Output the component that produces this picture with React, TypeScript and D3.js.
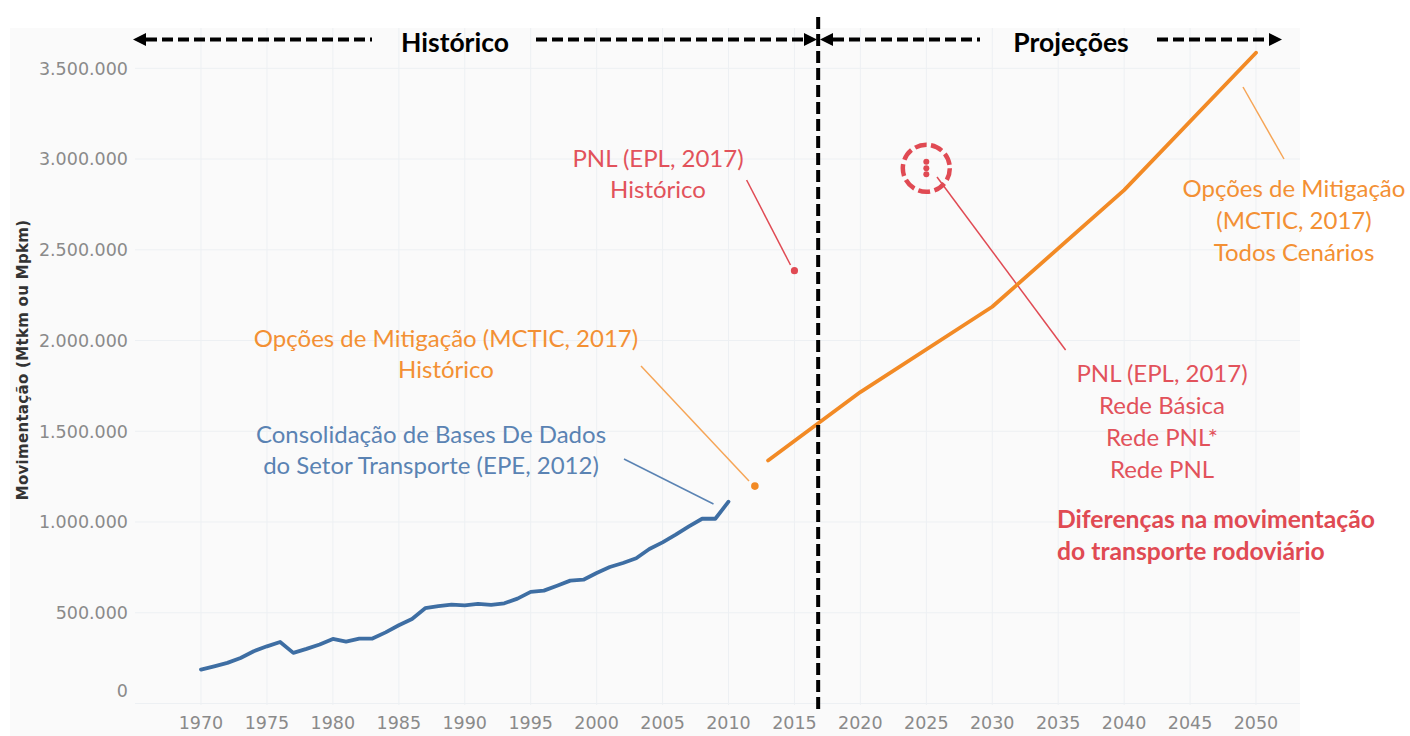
import React from "react";
import * as d3 from "d3";

// ---------- data ----------
const histYears = [
  1970, 1971, 1972, 1973, 1974, 1975, 1976, 1977, 1978, 1979, 1980, 1981, 1982, 1983, 1984,
  1985, 1986, 1987, 1988, 1989, 1990, 1991, 1992, 1993, 1994, 1995, 1996, 1997, 1998, 1999,
  2000, 2001, 2002, 2003, 2004, 2005, 2006, 2007, 2008, 2009, 2010,
];
const histValues = [
  187000, 205000, 224000, 251000, 288000, 315000, 339000, 279000, 301000, 325000, 356000,
  341000, 358000, 358000, 392000, 431000, 466000, 525000, 536000, 545000, 541000, 549000,
  543000, 552000, 578000, 615000, 622000, 649000, 677000, 682000, 719000, 752000, 774000,
  800000, 851000, 888000, 930000, 976000, 1018000, 1018000, 1112000,
];
const projYears = [2013, 2020, 2030, 2040, 2050];
const projValues = [1339000, 1716000, 2186000, 2829000, 3586000];
const mcticHistYears = [2012];
const mcticHistValues = [1198000];
const pnlHistYears = [2015];
const pnlHistValues = [2385000];
const pnlScenarioYears = [2025, 2025, 2025];
const pnlScenarioValues = [2985000, 2949000, 2916000];
const xTicks = [1970, 1975, 1980, 1985, 1990, 1995, 2000, 2005, 2010, 2015, 2020, 2025, 2030, 2035, 2040, 2045, 2050];
const yTicks = [0, 500000, 1000000, 1500000, 2000000, 2500000, 3000000, 3500000];
const dividerYear = 2016.8;

const yTitle = "Movimentação (Mtkm ou Mpkm)";
const headerLeft = "Histórico";
const headerRight = "Projeções";
const pnlHistLabel = ["PNL (EPL, 2017)", "Histórico"];
const mcticHistLabel = ["Opções de Mitigação (MCTIC, 2017)", "Histórico"];
const epeLabel = ["Consolidação de Bases De Dados", "do Setor Transporte (EPE, 2012)"];
const mcticProjLabel = ["Opções de Mitigação", "(MCTIC, 2017)", "Todos Cenários"];
const pnlProjLabel = ["PNL (EPL, 2017)", "Rede Básica", "Rede PNL*", "Rede PNL"];
const diffLabel = ["Diferenças na movimentação", "do transporte rodoviário"];

// ---------- styles ----------
const BLUE = "#3e6ea3";
const BLUE_TXT = "#5a83b3";
const ORANGE = "#f28a25";
const ORANGE_TXT = "#f39034";
const RED = "#e04a53";
const RED_TXT = "#e2525b";
const GRID = "#edf0f3";
const TICK = "#8a8a8a";
const ANN_FONT = "Lato, 'Open Sans', sans-serif";

const fmt = d3.formatLocale({ decimal: ",", thousands: ".", grouping: [3], currency: ["", ""] }).format(",d");

function Arrow({ tipX, y, dir }: { tipX: number; y: number; dir: 1 | -1 }) {
  const len = 13;
  const half = 6.5;
  const baseX = tipX - dir * len;
  return <polygon points={`${tipX},${y} ${baseX},${y - half} ${baseX},${y + half}`} fill="#000" />;
}

export default function App() {
  const x = d3.scaleLinear().domain([1970, 2050]).range([201, 1256]);
  const y = d3.scaleLinear().domain([0, 3500000]).range([703.5, 68.3]);

  const line = d3
    .line<[number, number]>()
    .x((d) => x(d[0]))
    .y((d) => y(d[1]))
    .curve(d3.curveLinear);

  const histPath = line(histYears.map((yr, i) => [yr, histValues[i]]));
  const projPath = line(projYears.map((yr, i) => [yr, projValues[i]]));

  const divX = x(dividerYear);
  const arrowY = 39.5;
  const circleCx = x(pnlScenarioYears[1]);
  const circleCy = y(pnlScenarioValues[1]);

  const annText = (lines: string[], cx: number, baseY: number, step: number, color: string, anchor = "middle", weight = 400, size = 24) => (
    <text x={cx} y={baseY} fill={color} fontFamily={ANN_FONT} fontSize={size} fontWeight={weight} textAnchor={anchor}>
      {lines.map((t, i) => (
        <tspan key={i} x={cx} y={baseY + i * step}>
          {t}
        </tspan>
      ))}
    </text>
  );

  return (
    <svg width={1410} height={736} style={{ position: "absolute", left: 0, top: 0, background: "#fff" }}>
      <rect x={10} y={28} width={1290} height={708} fill="#fafafa" />

      {/* grid */}
      {yTicks.map((t) => (
        <line key={"gy" + t} x1={135} x2={1300} y1={y(t)} y2={y(t)} stroke={GRID} strokeWidth={1} />
      ))}
      {xTicks.map((t) => (
        <line key={"gx" + t} x1={x(t)} x2={x(t)} y1={28} y2={705} stroke={GRID} strokeWidth={1} />
      ))}

      {/* y tick labels */}
      {yTicks.map((t) => (
        <text
          key={"ty" + t}
          x={128}
          y={y(t) + (t === 0 ? -13 : 0)}
          dy="0.36em"
          textAnchor="end"
          fill={TICK}
          fontFamily="'DejaVu Sans', sans-serif"
          fontSize={17.5}
        >
          {fmt(t)}
        </text>
      ))}
      {/* x tick labels */}
      {xTicks.map((t) => (
        <text
          key={"tx" + t}
          x={x(t)}
          y={729}
          textAnchor="middle"
          fill={TICK}
          fontFamily="'DejaVu Sans', sans-serif"
          fontSize={17.5}
        >
          {t}
        </text>
      ))}

      {/* y title */}
      <text
        transform="translate(27.5,360) rotate(-90)"
        textAnchor="middle"
        fill="#333"
        fontFamily="'DejaVu Sans', sans-serif"
        fontWeight={700}
        fontSize={15}
        letterSpacing={0.3}
      >
        {yTitle}
      </text>

      {/* leader lines */}
      <line x1={746.6} y1={180} x2={790.5} y2={265} stroke={RED} strokeWidth={1.5} />
      <line x1={937} y1={177} x2={1065.6} y2={350} stroke={RED} strokeWidth={1.5} />
      <line x1={641} y1={366} x2={749} y2={481} stroke="#f6a556" strokeWidth={1.5} />
      <line x1={624} y1={459} x2={713.5} y2={504} stroke={BLUE_TXT} strokeWidth={1.5} />
      <line x1={1243} y1={87} x2={1284} y2={159} stroke="#f6a556" strokeWidth={1.5} />

      {/* series */}
      <path d={histPath || ""} fill="none" stroke={BLUE} strokeWidth={3.8} strokeLinejoin="round" strokeLinecap="round" />
      <path d={projPath || ""} fill="none" stroke={ORANGE} strokeWidth={3.8} strokeLinejoin="round" strokeLinecap="round" />
      {mcticHistYears.map((yr, i) => (
        <circle key={"mh" + i} cx={x(yr)} cy={y(mcticHistValues[i])} r={3.8} fill={ORANGE} />
      ))}
      {pnlHistYears.map((yr, i) => (
        <circle key={"ph" + i} cx={x(yr)} cy={y(pnlHistValues[i])} r={3.6} fill={RED} />
      ))}
      {pnlScenarioYears.map((yr, i) => (
        <circle key={"ps" + i} cx={x(yr)} cy={y(pnlScenarioValues[i])} r={3} fill={RED} />
      ))}
      <circle cx={circleCx} cy={circleCy} r={23.5} fill="none" stroke={RED} strokeWidth={4.5} strokeDasharray="12,4.4" />

      {/* annotations */}
      {annText(pnlHistLabel, 658, 167, 31, RED_TXT)}
      {annText(mcticHistLabel, 446, 347, 31, ORANGE_TXT)}
      {annText(epeLabel, 431, 443, 31, BLUE_TXT)}
      {annText(mcticProjLabel, 1294, 197, 32, ORANGE_TXT)}
      {annText(pnlProjLabel, 1162, 382, 32, RED_TXT)}
      {annText(diffLabel, 1057, 528, 32, RED, "start", 700, 24.7)}

      {/* divider */}
      <line x1={divX} x2={divX} y1={17} y2={712} stroke="#000" strokeWidth={4} strokeDasharray="12,5" />

      {/* header arrows */}
      <line x1={146} x2={372} y1={arrowY} y2={arrowY} stroke="#000" strokeWidth={4} strokeDasharray="11,5" />
      <Arrow tipX={133} y={arrowY} dir={-1} />
      <line x1={536} x2={805} y1={arrowY} y2={arrowY} stroke="#000" strokeWidth={4} strokeDasharray="11,5" />
      <Arrow tipX={817} y={arrowY} dir={1} />
      <Arrow tipX={820} y={arrowY} dir={-1} />
      <line x1={833} x2={980} y1={arrowY} y2={arrowY} stroke="#000" strokeWidth={4} strokeDasharray="11,5" />
      <line x1={1157} x2={1270} y1={arrowY} y2={arrowY} stroke="#000" strokeWidth={4} strokeDasharray="11,5" />
      <Arrow tipX={1282} y={arrowY} dir={1} />
      <text x={455} y={52} textAnchor="middle" fontFamily={ANN_FONT} fontWeight={700} fontSize={26.5} fill="#000">
        {headerLeft}
      </text>
      <text x={1071} y={52} textAnchor="middle" fontFamily={ANN_FONT} fontWeight={700} fontSize={26.5} fill="#000">
        {headerRight}
      </text>
    </svg>
  );
}
